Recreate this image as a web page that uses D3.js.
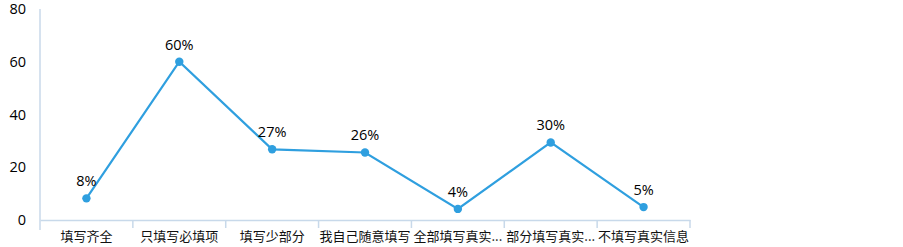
<!DOCTYPE html>
<html><head><meta charset="utf-8">
<script src="https://cdn.jsdelivr.net/npm/d3@7"></script>
<style>
html,body{margin:0;padding:0;background:#fff;}
svg{display:block;}
</style></head>
<body>
<svg id="chart" width="903" height="247"></svg>
<script>
const categories = ["填写齐全","只填写必填项","填写少部分","我自己随意填写","全部填写真实...","部分填写真实...","不填写真实信息"];
const values = [8.2, 60, 26.8, 25.6, 4.2, 29.4, 4.9];
const labels = ["8%","60%","27%","26%","4%","30%","5%"];
const yTicks = [0,20,40,60,80];

(function () {
const svg = d3.select("#chart");
const mLeft = 40, mRight = 690, mTop = 9, mBottom = 220;
const axisColor = "#c8d9ea";
const lineColor = "#2f9fdf";
const font = "'Open Sans', 'Noto Sans CJK SC', sans-serif";
const cjk = "'Noto Sans CJK SC', sans-serif";

const x = d3.scaleBand().domain(categories).range([mLeft, mRight]).padding(0);
const y = d3.scaleLinear().domain([0, 80]).range([mBottom, mTop]);

// y axis
const yAxis = svg.append("g").attr("transform", `translate(${mLeft},0)`)
  .call(d3.axisLeft(y).tickValues(yTicks).tickSize(0).tickPadding(14));
yAxis.select(".domain").remove();
yAxis.selectAll("text").attr("font-family", font).attr("font-size", 14.5).attr("fill", "#000");
svg.append("line").attr("x1", mLeft).attr("x2", mLeft).attr("y1", mTop).attr("y2", mBottom + 10)
  .attr("stroke", axisColor).attr("stroke-width", 1.5);

// x axis
const xAxis = svg.append("g").attr("transform", `translate(0,${mBottom})`)
  .call(d3.axisBottom(x).tickSize(0).tickPadding(12));
xAxis.select(".domain").attr("stroke", axisColor).attr("stroke-width", 1.5);
xAxis.selectAll("text").attr("font-family", cjk).attr("font-size", 13).attr("fill", "#111");
const bounds = categories.map(c => x(c)).concat([x(categories[categories.length-1]) + x.bandwidth()]);
svg.append("g").selectAll("line").data(bounds.slice(1)).join("line")
  .attr("x1", d => d).attr("x2", d => d).attr("y1", mBottom).attr("y2", mBottom + 8)
  .attr("stroke", axisColor).attr("stroke-width", 1.5);

// line
const data = categories.map((c, i) => ({c, v: values[i], l: labels[i]}));
const cx = d => x(d.c) + x.bandwidth() / 2;
svg.append("path").datum(data)
  .attr("d", d3.line().x(cx).y(d => y(d.v)))
  .attr("fill", "none").attr("stroke", lineColor).attr("stroke-width", 2.2);
svg.append("g").selectAll("circle").data(data).join("circle")
  .attr("cx", cx).attr("cy", d => y(d.v)).attr("r", 4.2).attr("fill", lineColor);
svg.append("g").selectAll("text").data(data).join("text")
  .attr("x", cx).attr("y", d => y(d.v) - 12)
  .attr("text-anchor", "middle").attr("font-family", font).attr("font-size", 14.5)
  .attr("fill", "#000").text(d => d.l);
})();
</script>
</body></html>
